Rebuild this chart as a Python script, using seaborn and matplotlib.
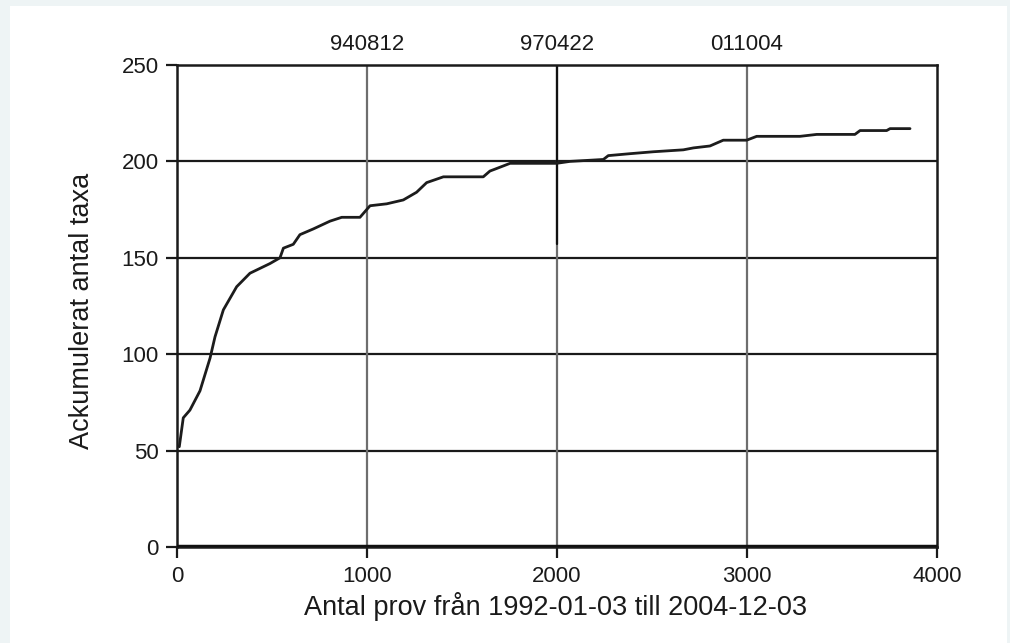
import matplotlib
matplotlib.use("Agg")
import matplotlib.pyplot as plt
from matplotlib.patches import Rectangle
import seaborn as sns
import pandas as pd

# Cumulative number of taxa against number of samples
samples = [12, 33, 68, 121, 174, 200, 244, 314, 384, 489, 542, 560, 612, 647,
           718, 805, 867, 963, 1016, 1104, 1191, 1261, 1314, 1402, 1489, 1612,
           1647, 1674, 1753, 1998, 2068, 2244, 2270, 2384, 2507, 2665, 2718,
           2805, 2875, 2998, 3051, 3279, 3367, 3568, 3595, 3735, 3753, 3858]
taxa = [52, 67, 71, 81, 98, 109, 123, 135, 142, 147, 150, 155, 157, 162,
        165, 169, 171, 171, 177, 178, 180, 184, 189, 192, 192, 192,
        195, 196, 199, 199, 200, 201, 203, 204, 205, 206, 207,
        208, 211, 211, 213, 213, 214, 214, 216, 216, 217, 217]

# Date markers along the sample axis
marker_pos = [1000, 2000, 3000]
marker_labels = ["940812", "970422", "011004"]

x_ticks = [0, 1000, 2000, 3000, 4000]
y_ticks = [0, 50, 100, 150, 200, 250]

xlabel = "Antal prov från 1992-01-03 till 2004-12-03"
ylabel = "Ackumulerat antal taxa"

sns.set_style("white")
plt.rcParams["font.family"] = ["Liberation Sans", "DejaVu Sans"]

df = pd.DataFrame({"prov": samples, "taxa": taxa})

fig = plt.figure(figsize=(10.10, 6.43), dpi=100)
fig.patch.set_facecolor("#eef4f5")
fig.patches.append(Rectangle((10 / 1010, 0), 997 / 1010, 637 / 643,
                             transform=fig.transFigure, facecolor="white",
                             edgecolor="none", zorder=-10))

ax = fig.add_axes([177 / 1010, 96 / 643, 760 / 1010, 482 / 643])
ax.set_zorder(1)
ax.set_facecolor("white")

# horizontal grid
for yv in y_ticks[1:-1]:
    ax.axhline(yv, color="#1a1a1a", lw=1.6, zorder=1)
# vertical date markers
for xv in marker_pos:
    ax.axvline(xv, color="#6e6e6e", lw=1.6, zorder=1)
ax.plot([2000, 2000], [157, 250], color="#111111", lw=1.6, zorder=1.5)
ax.axhline(0, color="#111111", lw=3.2, zorder=3)

sns.lineplot(data=df, x="prov", y="taxa", ax=ax, color="#1c1c1c", lw=2.0,
             zorder=4, sort=False)

ax.set_xlim(0, 4000)
ax.set_ylim(0, 250)
ax.set_xticks(x_ticks)
ax.set_yticks(y_ticks)
ax.tick_params(axis="both", direction="out", length=8, width=1.6,
               color="#1a1a1a", labelsize=16, labelcolor="#1a1a1a")
ax.tick_params(axis="x", pad=6)
ax.tick_params(axis="y", pad=5)
ax.tick_params(bottom=True, left=True)

for side in ["left", "right", "top", "bottom"]:
    ax.spines[side].set_visible(True)
    ax.spines[side].set_color("#1a1a1a")
    ax.spines[side].set_linewidth(1.8)

ax.set_xlabel(xlabel, fontsize=19.5, color="#1a1a1a")
ax.set_ylabel(ylabel, fontsize=19.5, color="#1a1a1a")
ax.xaxis.set_label_coords(0.4987, -0.093)
ax.yaxis.set_label_coords(-0.108, 0.49)

for xv, lab in zip(marker_pos, marker_labels):
    ax.text(xv, 1.02, lab, transform=ax.get_xaxis_transform(), ha="center",
            va="bottom", fontsize=16, color="#1a1a1a")

fig.savefig("out.png", dpi=100, facecolor=fig.get_facecolor())
